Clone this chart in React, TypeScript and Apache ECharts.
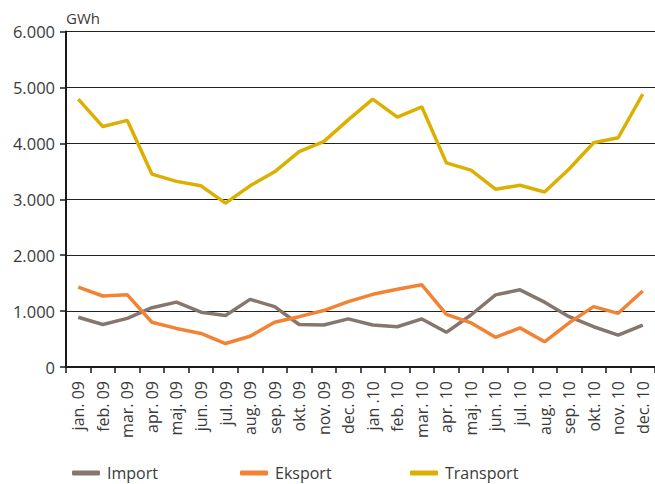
import React, { useEffect, useRef } from "react";
import * as echarts from "echarts";

const categories = [
  "jan. 09", "feb. 09", "mar. 09", "apr. 09", "maj. 09", "jun. 09",
  "jul. 09", "aug. 09", "sep. 09", "okt. 09", "nov. 09", "dec. 09",
  "jan .10", "feb. 10", "mar. 10", "apr. 10", "maj. 10", "jun. 10",
  "jul. 10", "aug. 10", "sep. 10", "okt. 10", "nov. 10", "dec. 10",
];

const importValues = [
  890, 760, 870, 1060, 1160, 980, 920, 1210, 1080, 760, 750, 860,
  750, 720, 860, 620, 930, 1290, 1380, 1160, 900, 720, 570, 750,
];

const eksportValues = [
  1430, 1270, 1290, 800, 690, 600, 420, 550, 800, 900, 1010, 1170,
  1300, 1390, 1470, 940, 790, 530, 700, 450, 790, 1080, 960, 1360,
];

const transportValues = [
  4790, 4300, 4410, 3450, 3320, 3240, 2930, 3240, 3490, 3850, 4030, 4420,
  4790, 4470, 4650, 3650, 3520, 3180, 3250, 3130, 3540, 4010, 4100, 4880,
];

const yTicks = { min: 0, max: 6000, interval: 1000 };
const unitLabel = "GWh";

const FONT = "'Open Sans', sans-serif";
const TEXT = "#3a3a3a";

export default function App() {
  const ref = useRef<HTMLDivElement>(null);
  useEffect(() => {
    if (!ref.current) return;
    const chart = echarts.init(ref.current, null, { renderer: "svg" });
    const seriesDefs = [
      { name: "Import", data: importValues, color: "#85776e" },
      { name: "Eksport", data: eksportValues, color: "#f28335" },
      { name: "Transport", data: transportValues, color: "#dbb000" },
    ];
    const legendLefts = [72, 240, 410];
    chart.setOption({
      animation: false,
      textStyle: { fontFamily: FONT },
      grid: { left: 66, right: 0, top: 31.5, bottom: 117 },
      legend: seriesDefs.map((s, i) => ({
        data: [s.name],
        left: legendLefts[i],
        top: 463,
        padding: 0,
        icon: "roundRect",
        itemWidth: 28,
        itemHeight: 5,
        itemGap: 0,
        textStyle: {
          fontFamily: FONT,
          fontSize: 16,
          lineHeight: 20,
          color: TEXT,
          padding: [0, 0, 0, 2],
        },
      })),
      xAxis: {
        type: "category",
        data: categories,
        boundaryGap: true,
        axisLine: { show: true, lineStyle: { color: "#1a1a1a", width: 2 } },
        axisTick: { show: true, alignWithLabel: false, length: 6, lineStyle: { color: "#1a1a1a", width: 1.5 } },
        axisLabel: {
          rotate: 90,
          interval: 0,
          margin: 14,
          fontFamily: FONT,
          fontSize: 16,
          color: TEXT,
        },
      },
      yAxis: {
        type: "value",
        min: yTicks.min,
        max: yTicks.max,
        interval: yTicks.interval,
        name: unitLabel,
        nameLocation: "end",
        nameGap: 6,
        nameTextStyle: { fontFamily: FONT, fontSize: 15, color: TEXT, align: "left", padding: [0, 0, 0, 0] },
        axisLine: { show: true, lineStyle: { color: "#1a1a1a", width: 2 } },
        axisTick: { show: true, length: 6, lineStyle: { color: "#1a1a1a", width: 1.5 } },
        splitLine: { show: true, lineStyle: { color: "#222", width: 1 } },
        axisLabel: {
          margin: 11,
          fontFamily: FONT,
          fontSize: 16.5,
          color: TEXT,
          formatter: (v: number) => (v === 0 ? "0" : (v / 1000).toFixed(3)),
        },
      },
      series: seriesDefs.map((s) => ({
        name: s.name,
        type: "line",
        data: s.data,
        symbol: "none",
        itemStyle: { color: s.color },
        lineStyle: { color: s.color, width: 3.5 },
      })),
    });
    return () => chart.dispose();
  }, []);
  return (
    <div
      ref={ref}
      style={{ position: "fixed", left: 0, top: 0, width: 655, height: 484, background: "#fff" }}
    />
  );
}
